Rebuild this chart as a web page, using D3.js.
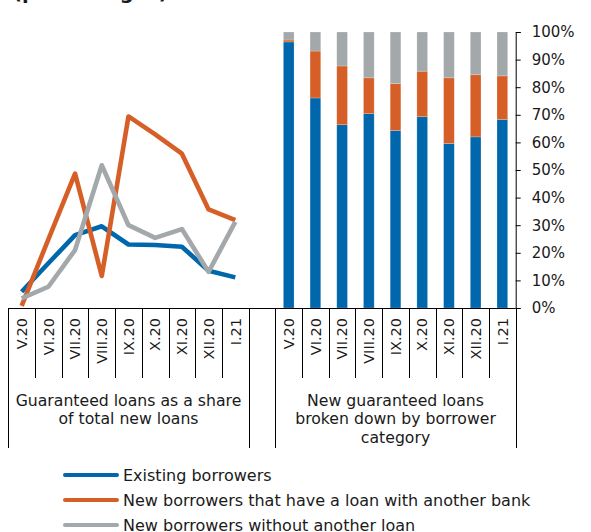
<!DOCTYPE html>
<html>
<head>
<meta charset="utf-8">
<script src="https://cdn.jsdelivr.net/npm/d3@7"></script>
<style>
  html, body { margin: 0; padding: 0; background: #fff; }
  svg text { font-family: Verdana, "DejaVu Sans", sans-serif; fill: #1a1a1a; }
</style>
</head>
<body>
<svg id="chart" width="591" height="532"></svg>
<script>
// Months shown on both panels
const months = ["V.20", "VI.20", "VII.20", "VIII.20", "IX.20", "X.20", "XI.20", "XII.20", "I.21"];

// Left panel: guaranteed loans as a share of total new loans (%)
const shareExisting = [5.9, 16.2, 26.4, 29.6, 23.0, 22.8, 22.2, 13.5, 11.1];
const shareNewWithLoan = [0.8, 24.9, 48.7, 11.6, 69.4, 62.9, 55.9, 35.7, 31.8];
const shareNewNoLoan = [3.5, 7.7, 21.0, 51.7, 30.0, 25.4, 28.6, 13.1, 31.2];

// Right panel: new guaranteed loans by borrower category (%)
const splitExisting = [96.4, 76.1, 66.4, 70.4, 64.3, 69.3, 59.6, 62.0, 68.3];
const splitNewWithLoan = [0.7, 17.0, 21.3, 13.0, 17.0, 16.5, 23.8, 22.5, 15.8];
const splitNewNoLoan = [2.9, 6.9, 12.3, 16.6, 18.7, 14.2, 16.6, 15.5, 15.9];

const yTicks = [0, 10, 20, 30, 40, 50, 60, 70, 80, 90, 100];

const seriesNames = ["Existing borrowers", "New borrowers that have a loan with another bank", "New borrowers without another loan"];
const seriesColors = ["#0067ac", "#d65f28", "#a3a8ab"];

const groupTitles = [
  ["Guaranteed loans as a share", "of total new loans"],
  ["New guaranteed loans", "broken down by borrower", "category"]
];

const svg = d3.select("#chart");

// One shared band scale: nine line months, a spacer, nine bar months
const slots = months.map(m => "L|" + m).concat(["gap"], months.map(m => "B|" + m));
const x = d3.scaleBand().domain(slots).range([8.3, 515.7]).paddingInner(0).paddingOuter(0);
const y = d3.scaleLinear().domain([0, 100]).range([308, 32]);
const bw = x.bandwidth();

// Title (partly above the visible area)
svg.append("text")
  .attr("x", 13).attr("y", -1)
  .style("font-size", "19.5px").style("font-weight", "bold")
  .text("(percentages)");

// Stacked bars
const barRows = months.map((m, i) => ({
  key: "B|" + m,
  a: splitExisting[i], b: splitNewWithLoan[i], c: splitNewNoLoan[i]
}));
const stack = d3.stack().keys(["a", "b", "c"]);
const stacked = stack(barRows);
const barW = bw * 0.4;
svg.append("g").selectAll("g")
  .data(stacked)
  .join("g")
  .attr("fill", (d, i) => seriesColors[i])
  .selectAll("rect")
  .data(d => d)
  .join("rect")
  .attr("x", d => x(d.data.key) + (bw - barW) / 2)
  .attr("width", barW)
  .attr("y", d => y(Math.min(100, d[1])))
  .attr("height", d => y(d[0]) - y(Math.min(100, d[1])))
  .attr("stroke", "#ffffff")
  .attr("stroke-opacity", 0.35)
  .attr("stroke-width", 0.6);

// Lines
const lineSeries = [shareExisting, shareNewWithLoan, shareNewNoLoan];
const line = d3.line()
  .x((d, i) => x("L|" + months[i]) + bw / 2)
  .y(d => y(d));
svg.append("g").selectAll("path")
  .data(lineSeries)
  .join("path")
  .attr("d", d => line(d))
  .attr("fill", "none")
  .attr("stroke", (d, i) => seriesColors[i])
  .attr("stroke-width", 4.6)
  .attr("stroke-linejoin", "round");

// Right value axis
const yAxis = d3.axisRight(y)
  .tickValues(yTicks)
  .tickFormat(d => d + "%")
  .tickSize(5)
  .tickPadding(11);
const ya = svg.append("g").attr("transform", "translate(515.7,0)").call(yAxis);
ya.selectAll("text").style("font-size", "15px").attr("fill", "#1a1a1a");
ya.selectAll("path, line").attr("stroke", "#000");

// Category axis: baseline, separators and rotated month labels
const cat = svg.append("g").attr("stroke", "#000").attr("stroke-width", 1);
cat.append("line").attr("x1", x.range()[0]).attr("x2", x.range()[1]).attr("y1", 308.5).attr("y2", 308.5);

const edges = [];
["L|", "B|"].forEach(p => {
  months.forEach((m, i) => {
    const left = x(p + m);
    edges.push({ x: left, outer: i === 0 });
    if (i === months.length - 1) edges.push({ x: left + bw, outer: true });
  });
});
cat.selectAll("line.sep")
  .data(edges)
  .join("line")
  .attr("class", "sep")
  .attr("x1", d => Math.round(d.x) + 0.5)
  .attr("x2", d => Math.round(d.x) + 0.5)
  .attr("y1", 308)
  .attr("y2", d => d.outer ? 448 : 378);

svg.append("g").selectAll("text")
  .data(slots.filter(s => s !== "gap"))
  .join("text")
  .attr("transform", d => `translate(${x(d) + bw / 2},318) rotate(-90)`)
  .attr("text-anchor", "end")
  .attr("dy", "0.36em")
  .style("font-size", "14.5px")
  .text(d => d.split("|")[1]);

// Group titles under each panel
const groupCenters = [
  (x("L|" + months[0]) + x("L|" + months[8]) + bw) / 2,
  (x("B|" + months[0]) + x("B|" + months[8]) + bw) / 2
];
groupTitles.forEach((lines, g) => {
  svg.append("g").selectAll("text")
    .data(lines)
    .join("text")
    .attr("x", groupCenters[g])
    .attr("y", (d, i) => 405.5 + i * 18.5)
    .attr("text-anchor", "middle")
    .style("font-size", "15.7px")
    .text(d => d);
});

// Legend
const lg = svg.append("g").selectAll("g")
  .data(seriesNames)
  .join("g")
  .attr("transform", (d, i) => `translate(0,${475 + i * 25})`);
lg.append("line")
  .attr("x1", 65).attr("x2", 117).attr("y1", 0).attr("y2", 0)
  .attr("stroke", (d, i) => seriesColors[i])
  .attr("stroke-width", 4)
  .attr("stroke-linecap", "round");
lg.append("text")
  .attr("x", 123).attr("y", 5.5)
  .style("font-size", "16px")
  .text(d => d);
</script>
</body>
</html>
